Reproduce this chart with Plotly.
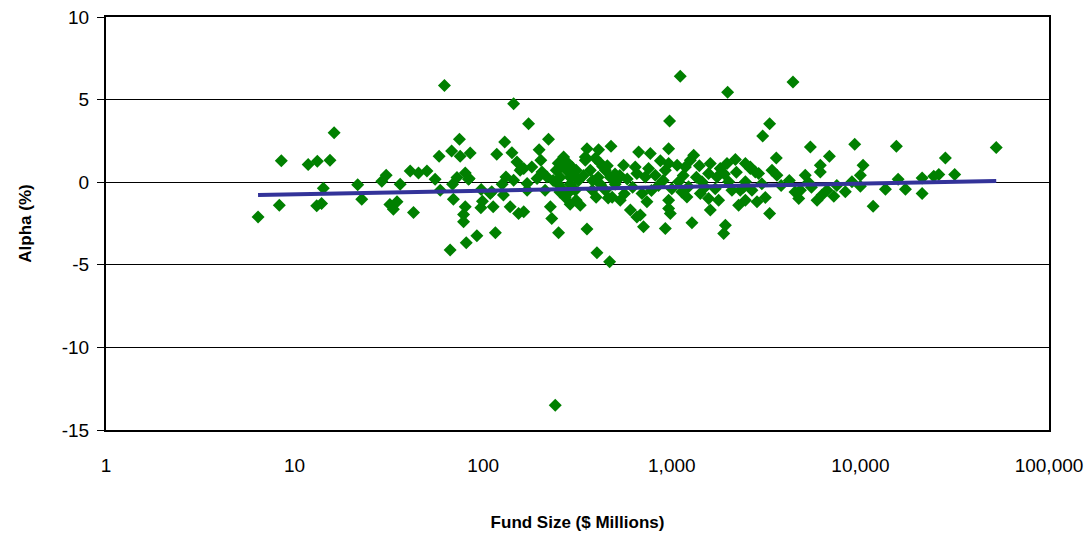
import plotly.graph_objects as go

# ---- data (Fund size in $ millions, alpha in %) ----
size_small = [6.4, 8.5, 8.3, 11.8, 13.2, 15.4, 16.2, 14.2, 13.1, 13.9, 21.6, 22.7, 29, 30.6, 32, 33.4,
              34.9, 36.3, 41, 45.4, 50.3, 42.7, 58.4, 62.3, 55.6, 59.2, 68, 75.5, 85.3, 74.8, 72.6, 80.3,
              83.6, 69.5, 80.3, 78.7, 78.7, 97.2, 99.1, 66.8, 81.3, 92.6, 116, 145, 130, 118, 142, 151,
              160, 109, 128, 113, 139, 154, 132, 145, 171, 174, 84.3, 68.8, 126, 157, 111, 97.6]
alpha_small = [-2.1, 1.3, -1.4, 1.07, 1.27, 1.33, 3.0, -0.36, -1.43, -1.29, -0.16, -1.03, 0.06, 0.42, -1.35, -1.63,
               -1.19, -0.12, 0.68, 0.56, 0.68, -1.83, 1.57, 5.86, 0.18, -0.48, 1.89, 1.57, 1.77, 2.6, 0.28, 0.56,
               0.18, -1.03, -1.49, -1.95, -2.4, -1.55, -1.15, -4.1, -3.66, -3.24, -3.06, 4.75, 2.43, 1.69, 1.79, 1.23,
               0.83, -0.68, -0.78, -1.49, -1.49, -1.89, 0.32, 0.12, -0.08, 3.54, 0.22, -0.12, -0.12, 0.72, -0.58, -0.44]

size_mid = [222, 198, 202, 181, 164, 205, 193, 218, 213, 171, 164,
            267, 250, 282, 244, 276, 311, 256, 289, 250, 289, 266, 308, 272, 289, 311, 327, 260, 300, 235, 320,
            280, 255, 296, 340, 355, 348, 348, 409, 476,
            393, 418, 370, 444, 407, 472, 501, 418, 379, 444, 483, 533, 397, 460, 430, 380, 500, 455, 520,
            227, 231, 251, 355, 401, 468, 603, 653, 555, 640, 667, 241]
alpha_mid = [2.6, 1.97, 1.33, 0.92, 0.83, 0.62, 0.22, 0.32, -0.48, -0.48, -1.79,
             1.53, 1.15, 1.15, 0.72, 0.72, 0.72, 0.30, 0.30, -0.12, -0.12, -0.48, -0.48, -0.91, -1.33, -1.09, -1.39, 0.95, 0.5, 0.1, 0.1,
             -0.7, -0.6, 0.9, 0.4, 2.03, 1.53, 1.33, 1.97, 2.17,
             1.45, 1.15, 0.72, 0.72, 0.30, 0.30, -0.12, -0.12, -0.48, -0.48, -0.91, -1.09, -0.91, -0.95, 0.95, 0.1, 0.5, 1.0, 0.2,
             -1.49, -2.19, -3.06, -2.84, -4.27, -4.81, -1.69, -2.10, 1.03, 0.92, 1.83, -13.5]

size_large = [973, 962, 769, 1306, 1254, 1180, 1067, 962, 924, 1600, 1807, 1962, 2173, 2455, 2608, 1567, 1738,
              817, 723, 653, 753, 1087, 1227, 1445, 2001, 2455, 695, 738, 681, 708, 962, 962, 982, 924,
              1203, 1416, 1567, 1600, 1771, 1279, 1923, 1884, 2261, 2455, 2661, 2084, 2307,
              580, 620, 850, 900, 780, 1000, 1150, 1350, 1500, 1700, 1900, 2200, 2400, 560, 1130, 870, 1400, 530,
              1109, 1977, 3302, 3034, 3581, 5430, 6850, 9330, 3398, 3610, 2886, 2773, 2608, 5100, 6130, 6130,
              10330, 10000, 9020, 2830, 3133, 3302, 4710, 4810, 5890, 6260, 7230, 6650, 8320, 11680, 10000, 4390,
              3800, 4200, 5500, 7500, 3000, 4500, 5300,
              15520, 28220, 52500, 13580, 15850, 17330, 21250, 21250, 24480, 26050, 31620]
alpha_large = [3.7, 2.03, 1.73, 1.63, 1.33, 0.92, 1.03, 1.13, 0.72, 1.13, 0.83, 1.13, 1.37, 1.13, 0.83, 0.53, 0.32,
               0.42, 0.32, 0.53, 0.83, 0.02, -0.28, 0.02, 0.02, 0.02, -0.68, -1.19, -1.99, -2.7, -1.09, -1.59, -1.89, -2.8,
               -0.89, -0.68, -0.98, -1.69, -1.09, -2.46, -2.6, -3.1, -1.39, -1.09, -0.48, -0.48, -0.48,
               0.2, -0.3, -0.2, 0.1, -0.5, -0.4, 0.4, 0.3, -0.3, -0.4, 0.5, 0.6, -0.3, -0.7, -0.6, 1.3, 1.0, 0.4,
               6.42, 5.45, 3.54, 2.8, 1.47, 2.13, 1.57, 2.29, 0.72, 0.42, 0.53, 0.62, 0.92, 0.42, 1.03, 0.62,
               1.03, 0.42, 0.02, -1.19, -0.92, -1.89, -0.98, -0.48, -1.09, -0.78, -0.85, -0.48, -0.58, -1.45, -0.24, 6.06,
               -0.2, 0.1, -0.3, -0.2, -0.1, -0.6, 0.0,
               2.17, 1.47, 2.1, -0.42, 0.18, -0.42, 0.26, -0.68, 0.36, 0.46, 0.46]

fund_size = size_small + size_mid + size_large
alpha = alpha_small + alpha_mid + alpha_large

# trend line end points
trend_size = [6.4, 52500]
trend_alpha = [-0.78, 0.08]

x_tickvals = [1, 10, 100, 1000, 10000, 100000]
x_ticktext = ["1", "10", "100", "1,000", "10,000", "100,000"]
y_tickvals = [-15, -10, -5, 0, 5, 10]
y_ticktext = ["-15", "-10", "-5", "0", "5", "10"]

fig = go.Figure()
fig.add_trace(go.Scatter(
    x=fund_size, y=alpha, mode="markers",
    marker=dict(symbol="diamond", size=10, color="#008000", line=dict(width=0)),
    showlegend=False, cliponaxis=False,
))
fig.add_trace(go.Scatter(
    x=trend_size, y=trend_alpha, mode="lines",
    line=dict(color="#333399", width=4),
    showlegend=False,
))

font_family = "Liberation Sans, Arial, sans-serif"

fig.update_layout(
    width=1086, height=539,
    margin=dict(l=106, r=37, t=17, b=109),
    paper_bgcolor="white", plot_bgcolor="white",
    font=dict(family=font_family, color="black", size=19),
    xaxis=dict(
        type="log", range=[0, 5], automargin=False,
        tickvals=x_tickvals, ticktext=x_ticktext,
        showgrid=False, zeroline=False,
        showline=True, linecolor="black", linewidth=2, mirror=True,
        ticks="", ticklabelstandoff=17, ticklabeloverflow="allow",
        tickfont=dict(size=19, family=font_family),
        title=dict(text="<b>Fund Size ($ Millions)</b>", font=dict(size=17, family=font_family), standoff=41),
    ),
    yaxis=dict(
        range=[-15, 10], tickvals=y_tickvals, ticktext=y_ticktext, automargin=False,
        showgrid=True, gridcolor="black", gridwidth=1,
        zeroline=False,
        showline=True, linecolor="black", linewidth=2, mirror=True,
        ticks="outside", ticklen=7, tickcolor="black", tickwidth=1,
        ticklabelstandoff=4, ticklabeloverflow="allow",
        tickfont=dict(size=19, family=font_family),
        title=dict(text="<b>Alpha (%)</b>", font=dict(size=17, family=font_family), standoff=26),
    ),
)

# remove the default 8px page margin so the figure sits at the window's top-left corner
fig.write_html("out.html", config={"displayModeBar": False},
               post_script="document.body.style.margin='0';")
